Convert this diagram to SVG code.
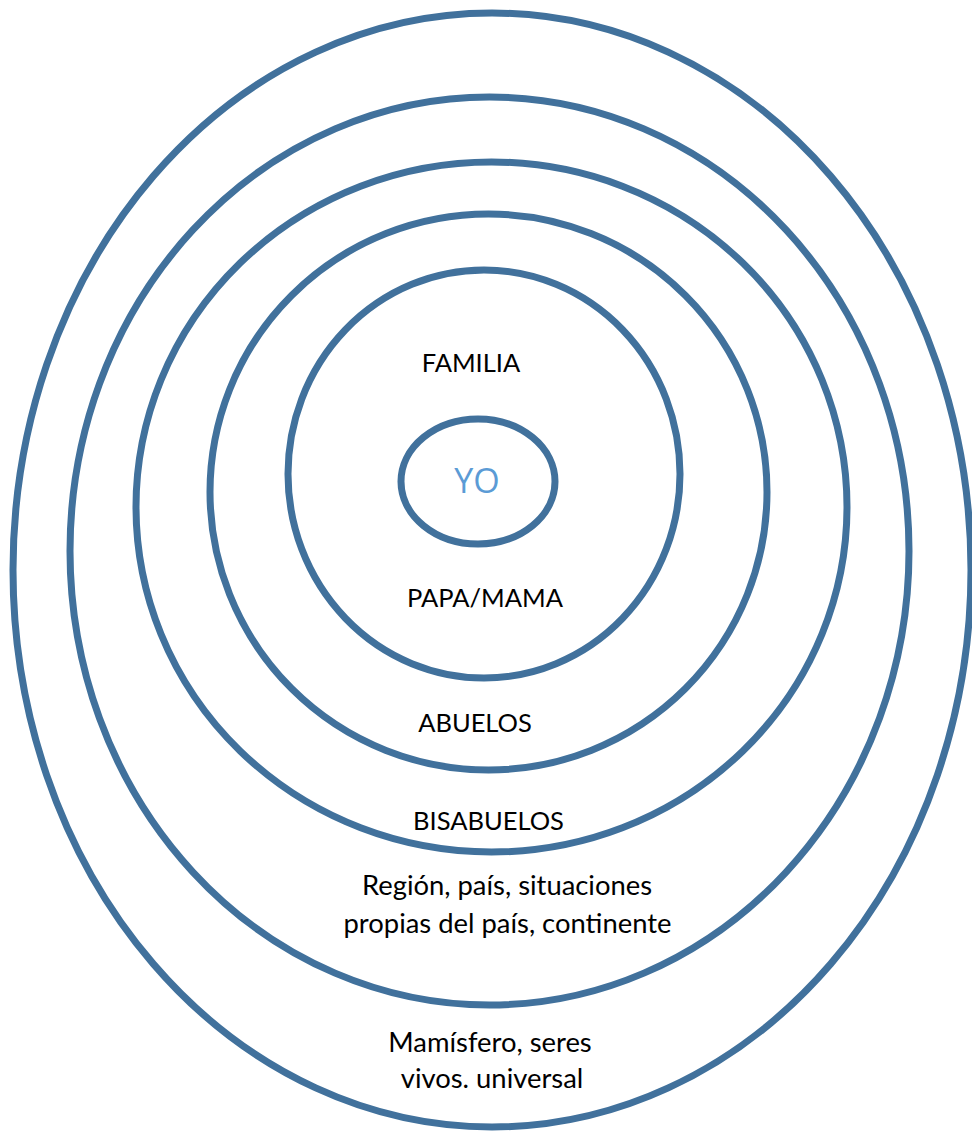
<svg xmlns="http://www.w3.org/2000/svg" width="972" height="1134" viewBox="0 0 972 1134">
  <style>
    .ring { fill: none; stroke: #41719C; stroke-width: 7; }
    .lbl { font-family: Lato, "Open Sans", "Liberation Sans", sans-serif; font-size: 25.5px; fill: #000000; text-anchor: middle; }
    .lbl2 { font-family: Lato, "Open Sans", "Liberation Sans", sans-serif; font-size: 27.4px; fill: #000000; text-anchor: middle; }
    .yo { font-family: "Open Sans", Lato, "Liberation Sans", sans-serif; font-size: 34px; fill: #5B9BD5; text-anchor: middle; }
  </style>
  <rect x="0" y="0" width="972" height="1134" fill="#ffffff"/>
  <g id="ring-universal">
    <ellipse class="ring" cx="492" cy="570" rx="479" ry="557" stroke-width="6.5"/>
    <text class="lbl2" x="490" y="1052">Mamísfero, seres</text>
    <text class="lbl2" x="492" y="1088">vivos. universal</text>
  </g>
  <g id="ring-region">
    <ellipse class="ring" cx="489.5" cy="551" rx="419.5" ry="454"/>
    <text class="lbl2" x="507" y="895">Región, país, situaciones</text>
    <text class="lbl2" x="507.5" y="933">propias del país, continente</text>
  </g>
  <g id="ring-bisabuelos">
    <ellipse class="ring" cx="491.5" cy="507" rx="355.5" ry="345"/>
    <text class="lbl" x="488.5" y="830">BISABUELOS</text>
  </g>
  <g id="ring-abuelos">
    <ellipse class="ring" cx="488.5" cy="492" rx="278.5" ry="278"/>
    <text class="lbl" x="475" y="732">ABUELOS</text>
  </g>
  <g id="ring-familia">
    <ellipse class="ring" cx="484" cy="474" rx="196" ry="204"/>
    <text class="lbl" x="471" y="372">FAMILIA</text>
    <text class="lbl" x="485" y="607">PAPA/MAMA</text>
  </g>
  <g id="yo">
    <ellipse class="ring" cx="478" cy="481.5" rx="77" ry="62.5" stroke-width="12"/>
    <text class="yo" x="477" y="493">YO</text>
  </g>
  <g id="connectors"/>
</svg>
